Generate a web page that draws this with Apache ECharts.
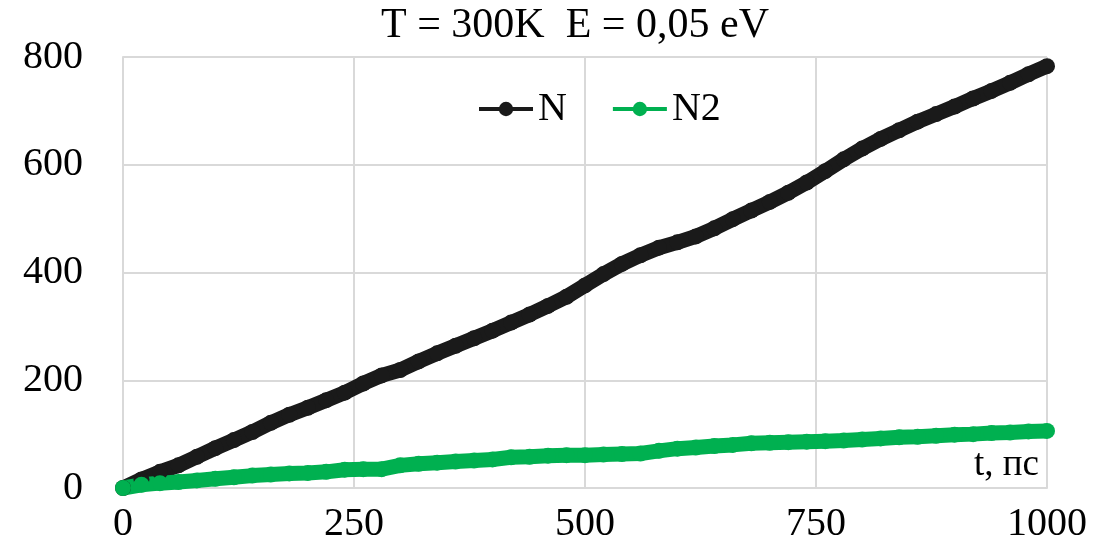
<!DOCTYPE html>
<html><head><meta charset="utf-8">
<script src="https://cdn.jsdelivr.net/npm/echarts@6/dist/echarts.min.js"></script>
<style>html,body{margin:0;padding:0;background:#fff}#c{width:1104px;height:551px}</style>
</head><body><div id="c"></div>
<script>
const titleText = 'T = 300K  E = 0,05 eV';
const xName = 't, пс';
const times = [0,20,40,60,80,100,120,140,160,180,200,220,240,260,280,300,320,340,360,380,400,420,440,460,480,500,520,540,560,580,600,620,640,660,680,700,720,740,760,780,800,820,840,860,880,900,920,940,960,980,1000];
const seriesN = [0,16,30,42,58,74,89,104,121,136,149,163,177,194,209,219,235,250,264,278,292,307,322,338,355,376,397,416,432,446,456,467,482,499,515,531,548,567,588,610,630,648,664,680,694,708,723,737,752,768,783];
const seriesN2 = [0,6,9,11,14,17,20,23,25,27,28,30,34,35,35,42,45,47,49,51,53,57,58,60,61,61,62,63,64,69,73,75,78,80,83,84,85,86,87,88,90,92,94,95,97,99,100,102,103,105,106];
const names = ['N','N2'];
const colors = ['#1a1a1a','#00b050'];

const font = 'Liberation Serif';
const chart = echarts.init(document.getElementById('c'));
const mk = (vals) => times.map((t,i)=>[t, vals[i]]);
chart.setOption({
  animation:false,
  title:{text:titleText,left:376,top:0,textStyle:{fontFamily:font,fontSize:42,fontWeight:'normal',color:'#000'}},
  legend:{top:84,left:472,itemGap:44,itemWidth:54,itemHeight:18,
    lineStyle:{width:4},
    textStyle:{fontFamily:font,fontSize:40,color:'#000'},
    data:names},
  grid:{left:123,right:57,top:57,bottom:63},
  xAxis:{type:'value',min:0,max:1000,interval:250,
    name:xName,nameLocation:'end',nameGap:-8,
    nameTextStyle:{fontFamily:font,fontSize:37,color:'#000',align:'right',verticalAlign:'bottom',padding:[0,0,4,0]},
    axisLine:{lineStyle:{color:'#d9d9d9',width:2}},axisTick:{show:false},
    axisLabel:{fontFamily:font,fontSize:40,color:'#000',margin:16,formatter:(v)=>String(v)},
    splitLine:{lineStyle:{color:'#d9d9d9',width:2}}},
  yAxis:{type:'value',min:0,max:800,interval:200,
    axisLine:{show:true,lineStyle:{color:'#d9d9d9',width:2}},axisTick:{show:false},
    axisLabel:{fontFamily:font,fontSize:40,color:'#000',margin:40},
    splitLine:{lineStyle:{color:'#d9d9d9',width:2}}},
  series:[
    {name:names[0],type:'line',data:mk(seriesN),symbol:'circle',symbolSize:16,
      lineStyle:{color:colors[0],width:15},itemStyle:{color:colors[0]}},
    {name:names[1],type:'line',data:mk(seriesN2),symbol:'circle',symbolSize:16,
      lineStyle:{color:colors[1],width:15},itemStyle:{color:colors[1]}}
  ]
});
</script></body></html>
